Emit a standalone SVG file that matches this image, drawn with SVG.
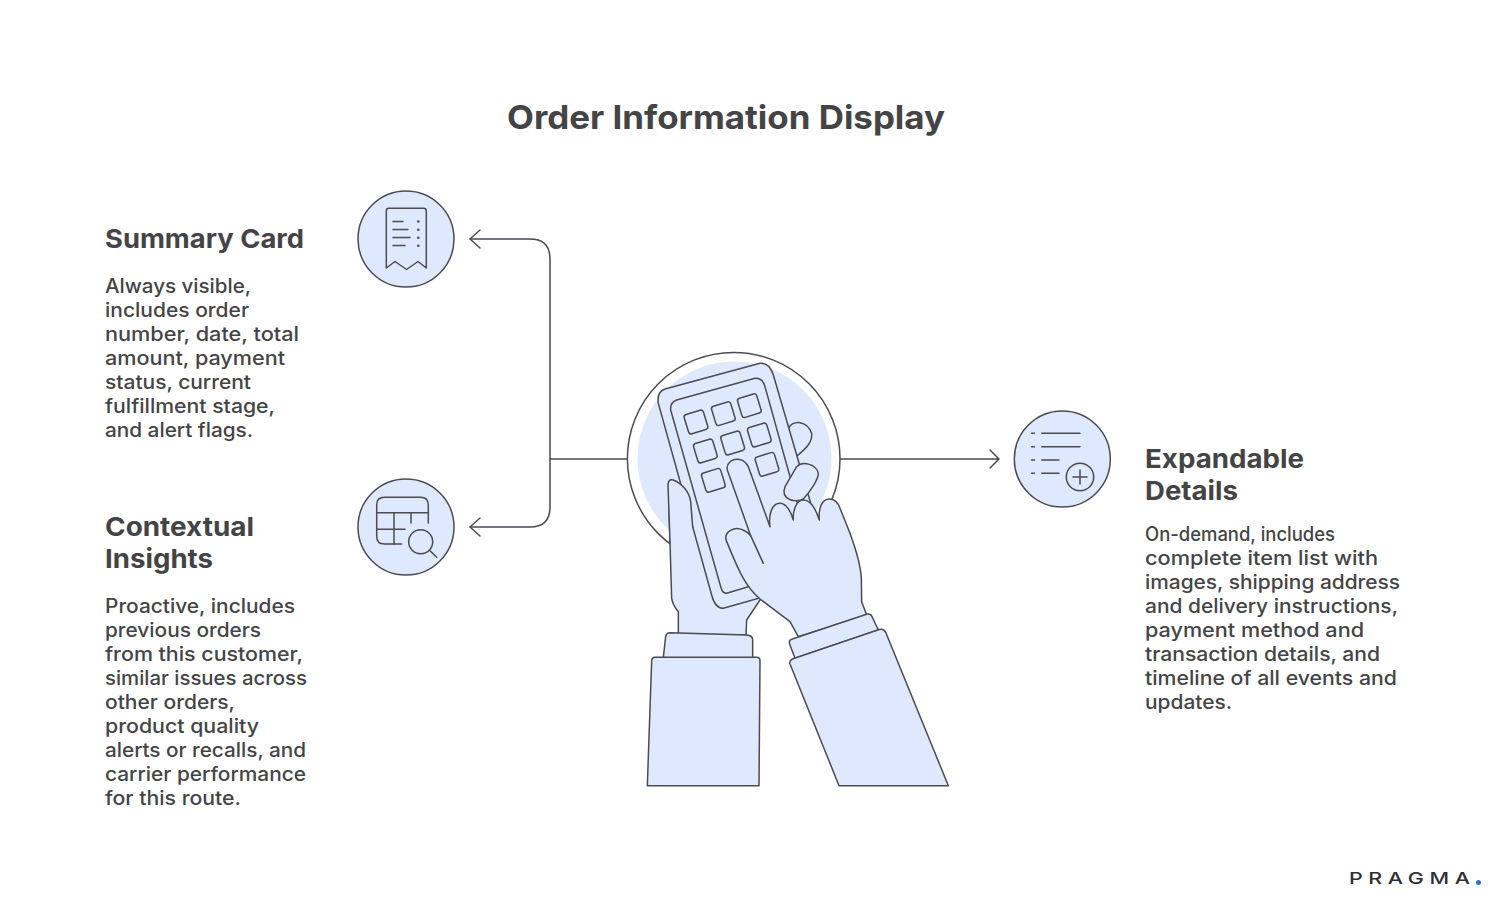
<svg xmlns="http://www.w3.org/2000/svg" width="1504" height="902" viewBox="0 0 1504 902">
<style>
.t{font-family:"Inter","Liberation Sans",sans-serif;fill:#444446}
.title{font-size:33px;font-weight:700}
.h{font-size:26px;font-weight:700}
.b{font-size:19.5px;font-weight:500}
.line{fill:none;stroke:#4b4b50;stroke-width:1.5;stroke-linecap:round;stroke-linejoin:round}
.fillp{fill:#dee9fd;stroke:#4b4b50;stroke-width:1.5;stroke-linejoin:round;stroke-linecap:round}
.z{stroke-width:4.5}
.key{fill:none;stroke:#4b4b50;stroke-width:4.5}
</style>
<rect width="1504" height="902" fill="#fff"/>
<text class="t title" x="507" y="129" textLength="438" lengthAdjust="spacingAndGlyphs">Order Information Display</text>

<g id="connectors">
<path class="line" d="M628 459H550M550 259V507M470 239H530Q550 239 550 259M470 527H530Q550 527 550 507"/>
<path class="line" d="M480 230L470 239L480 248M480 518L470 527L480 536"/>
<path class="line" d="M840 459H999M990 450L999 459L990 468"/>
</g>

<g id="center-illustration">
<circle cx="733.7" cy="458.7" r="106.3" fill="#fff" stroke="#4b4b50" stroke-width="1.5"/>
<circle cx="734.5" cy="458.5" r="97" fill="#dee9fd"/>
<g transform="translate(620 345) scale(.33333)">
<path class="fillp z" d="M147 480L150 590L155 760Q158 780 175 800L175 870L378 870L380 825L420 765"/>
<path class="fillp z" d="M505 250C520 225 560 225 575 265C578 290 560 310 528 335"/>
<path class="fillp z" d="M135 132L420 55Q448 52 460 90L637 697L310 790Q285 790 275 750L115 175Q110 140 135 132Z"/>
<path class="fillp z" d="M170 165L405 100Q428 98 435 125L585 665L320 745Q308 745 303 728L152 195Q150 172 170 165Z"/>
<g>
<rect class="key" x="-30" y="-30" width="60" height="60" rx="8" transform="translate(228 231) rotate(-17)"/>
<rect class="key" x="-30" y="-30" width="60" height="60" rx="8" transform="translate(310 206) rotate(-17)"/>
<rect class="key" x="-30" y="-30" width="60" height="60" rx="8" transform="translate(388 182) rotate(-17)"/>
<rect class="key" x="-30" y="-30" width="60" height="60" rx="8" transform="translate(256 318) rotate(-17)"/>
<rect class="key" x="-30" y="-30" width="60" height="60" rx="8" transform="translate(338 294) rotate(-17)"/>
<rect class="key" x="-30" y="-30" width="60" height="60" rx="8" transform="translate(418 270) rotate(-17)"/>
<rect class="key" x="-30" y="-30" width="60" height="60" rx="8" transform="translate(280 406) rotate(-17)"/>
<rect class="key" x="-30" y="-30" width="60" height="60" rx="8" transform="translate(441 358) rotate(-17)"/>
</g>
<path class="fillp z" d="M150 590L144 420Q145 400 160 405C185 415 208 440 212 470L218 545"/>
<path class="fillp z" d="M495 425L530 365C550 345 590 360 595 385C595 405 570 440 550 462C530 475 480 465 495 425Z"/>
<path class="fillp z" d="M535 875L510 830L420 762C370 720 350 660 320 590C308 560 345 540 375 558Q385 563 392 572L322 375C315 345 365 325 385 365L450 545C445 510 455 475 480 475C500 475 515 505 520 525C518 495 530 465 550 465C575 465 590 500 598 525C595 490 605 462 628 462C645 462 655 475 660 490L690 565C710 620 722 660 724 700L725 770L740 810Z"/>
<path class="line z" d="M392 572L430 655"/>
</g>
<g transform="translate(630 590) scale(.33333)">
<path class="fillp z" d="M100 202L107 140Q109 128 120 128L350 135Q368 136 368 150L368 202"/>
<path class="fillp z" d="M52 587L65 212Q66 202 75 202H380Q390 202 390 212L387 587Z"/>
<path class="fillp z" d="M495 205L478 160Q477 150 487 147L712 72Q722 70 726 80L745 120Z"/>
<path class="fillp z" d="M627 587L480 222Q477 212 487 207L750 118Q762 116 767 127L955 587Z"/>
</g>
</g>

<g id="summary-card">
<circle class="fillp" cx="406" cy="239" r="48"/>
<path class="line" d="M386.3 268V211Q386.3 208.300 389 208.300H423.700Q426.300 208.300 426.300 211V268L418 261.500L406.500 269.500L395 261.500Z"/>
<path class="line" d="M393 221.500H403M393 229.500H408M393 237.500H410M393 245.500H405"/>
<g fill="#4b4b50"><circle cx="418.300" cy="221.500" r="1.300"/><circle cx="418.300" cy="229.700" r="1.300"/><circle cx="418.300" cy="237.700" r="1.300"/><circle cx="418.300" cy="245.700" r="1.300"/></g>
<text class="t h" x="105" y="248" textLength="199" lengthAdjust="spacingAndGlyphs">Summary Card</text>
<text class="t b" x="105" y="293" textLength="146" lengthAdjust="spacingAndGlyphs">Always visible,</text>
<text class="t b" x="105" y="317" textLength="144" lengthAdjust="spacingAndGlyphs">includes order</text>
<text class="t b" x="105" y="341" textLength="194" lengthAdjust="spacingAndGlyphs">number, date, total</text>
<text class="t b" x="105" y="365" textLength="180" lengthAdjust="spacingAndGlyphs">amount, payment</text>
<text class="t b" x="105" y="389" textLength="146" lengthAdjust="spacingAndGlyphs">status, current</text>
<text class="t b" x="105" y="413" textLength="170" lengthAdjust="spacingAndGlyphs">fulfillment stage,</text>
<text class="t b" x="105" y="437" textLength="148" lengthAdjust="spacingAndGlyphs">and alert flags.</text>
</g>

<g id="contextual-insights">
<circle class="fillp" cx="406" cy="527" r="48"/>
<path class="line" d="M428.300 523V505Q428.300 497.300 420.500 497.300H384.500Q376.700 497.300 376.700 505V536.500Q376.700 544 384.500 544H401.700"/>
<path class="line" d="M376.700 512.700H428.300M394 512.700V544M376.700 529.300H405M411 512.700V523"/>
<circle class="line" cx="420.700" cy="541.700" r="12"/>
<path class="line" d="M430 550.700L436.700 557.300"/>
<text class="t h" x="105" y="536" textLength="149" lengthAdjust="spacingAndGlyphs">Contextual</text>
<text class="t h" x="105" y="568" textLength="108" lengthAdjust="spacingAndGlyphs">Insights</text>
<text class="t b" x="105" y="613" textLength="190" lengthAdjust="spacingAndGlyphs">Proactive, includes</text>
<text class="t b" x="105" y="637" textLength="156" lengthAdjust="spacingAndGlyphs">previous orders</text>
<text class="t b" x="105" y="661" textLength="198" lengthAdjust="spacingAndGlyphs">from this customer,</text>
<text class="t b" x="105" y="685" textLength="202" lengthAdjust="spacingAndGlyphs">similar issues across</text>
<text class="t b" x="105" y="709" textLength="130" lengthAdjust="spacingAndGlyphs">other orders,</text>
<text class="t b" x="105" y="733" textLength="154" lengthAdjust="spacingAndGlyphs">product quality</text>
<text class="t b" x="105" y="757" textLength="201" lengthAdjust="spacingAndGlyphs">alerts or recalls, and</text>
<text class="t b" x="105" y="781" textLength="201" lengthAdjust="spacingAndGlyphs">carrier performance</text>
<text class="t b" x="105" y="805" textLength="136" lengthAdjust="spacingAndGlyphs">for this route.</text>
</g>

<g id="expandable-details">
<circle class="fillp" cx="1062.300" cy="459" r="48"/>
<path class="line" d="M1031.500 433.300H1034.500M1041.700 433.300H1080M1031.500 446.700H1034.500M1041.700 446.700H1080M1031.500 460H1034.500M1041.700 460H1059M1031.500 473.300H1034.500M1041.700 473.300H1059"/>
<circle class="line" cx="1080" cy="477" r="13.700"/>
<path class="line" d="M1073 477H1087M1080 470V484"/>
<text class="t h" x="1145" y="468" textLength="159" lengthAdjust="spacingAndGlyphs">Expandable</text>
<text class="t h" x="1145" y="500" textLength="93" lengthAdjust="spacingAndGlyphs">Details</text>
<text class="t b" x="1145" y="541" textLength="190" lengthAdjust="spacingAndGlyphs">On-demand, includes</text>
<text class="t b" x="1145" y="565" textLength="233" lengthAdjust="spacingAndGlyphs">complete item list with</text>
<text class="t b" x="1145" y="589" textLength="255" lengthAdjust="spacingAndGlyphs">images, shipping address</text>
<text class="t b" x="1145" y="613" textLength="253" lengthAdjust="spacingAndGlyphs">and delivery instructions,</text>
<text class="t b" x="1145" y="637" textLength="219" lengthAdjust="spacingAndGlyphs">payment method and</text>
<text class="t b" x="1145" y="661" textLength="235" lengthAdjust="spacingAndGlyphs">transaction details, and</text>
<text class="t b" x="1145" y="685" textLength="252" lengthAdjust="spacingAndGlyphs">timeline of all events and</text>
<text class="t b" x="1145" y="709" textLength="87" lengthAdjust="spacingAndGlyphs">updates.</text>
</g>

<g id="logo">
<text transform="translate(1349 884) scale(1.3 1)" font-family="Inter, 'Liberation Sans', sans-serif" font-size="16.500" font-weight="500" fill="#2e2e33" textLength="93" lengthAdjust="spacing">PRAGMA</text>
<circle cx="1478.500" cy="882.500" r="2.500" fill="#2f6fd6"/>
</g>
</svg>
